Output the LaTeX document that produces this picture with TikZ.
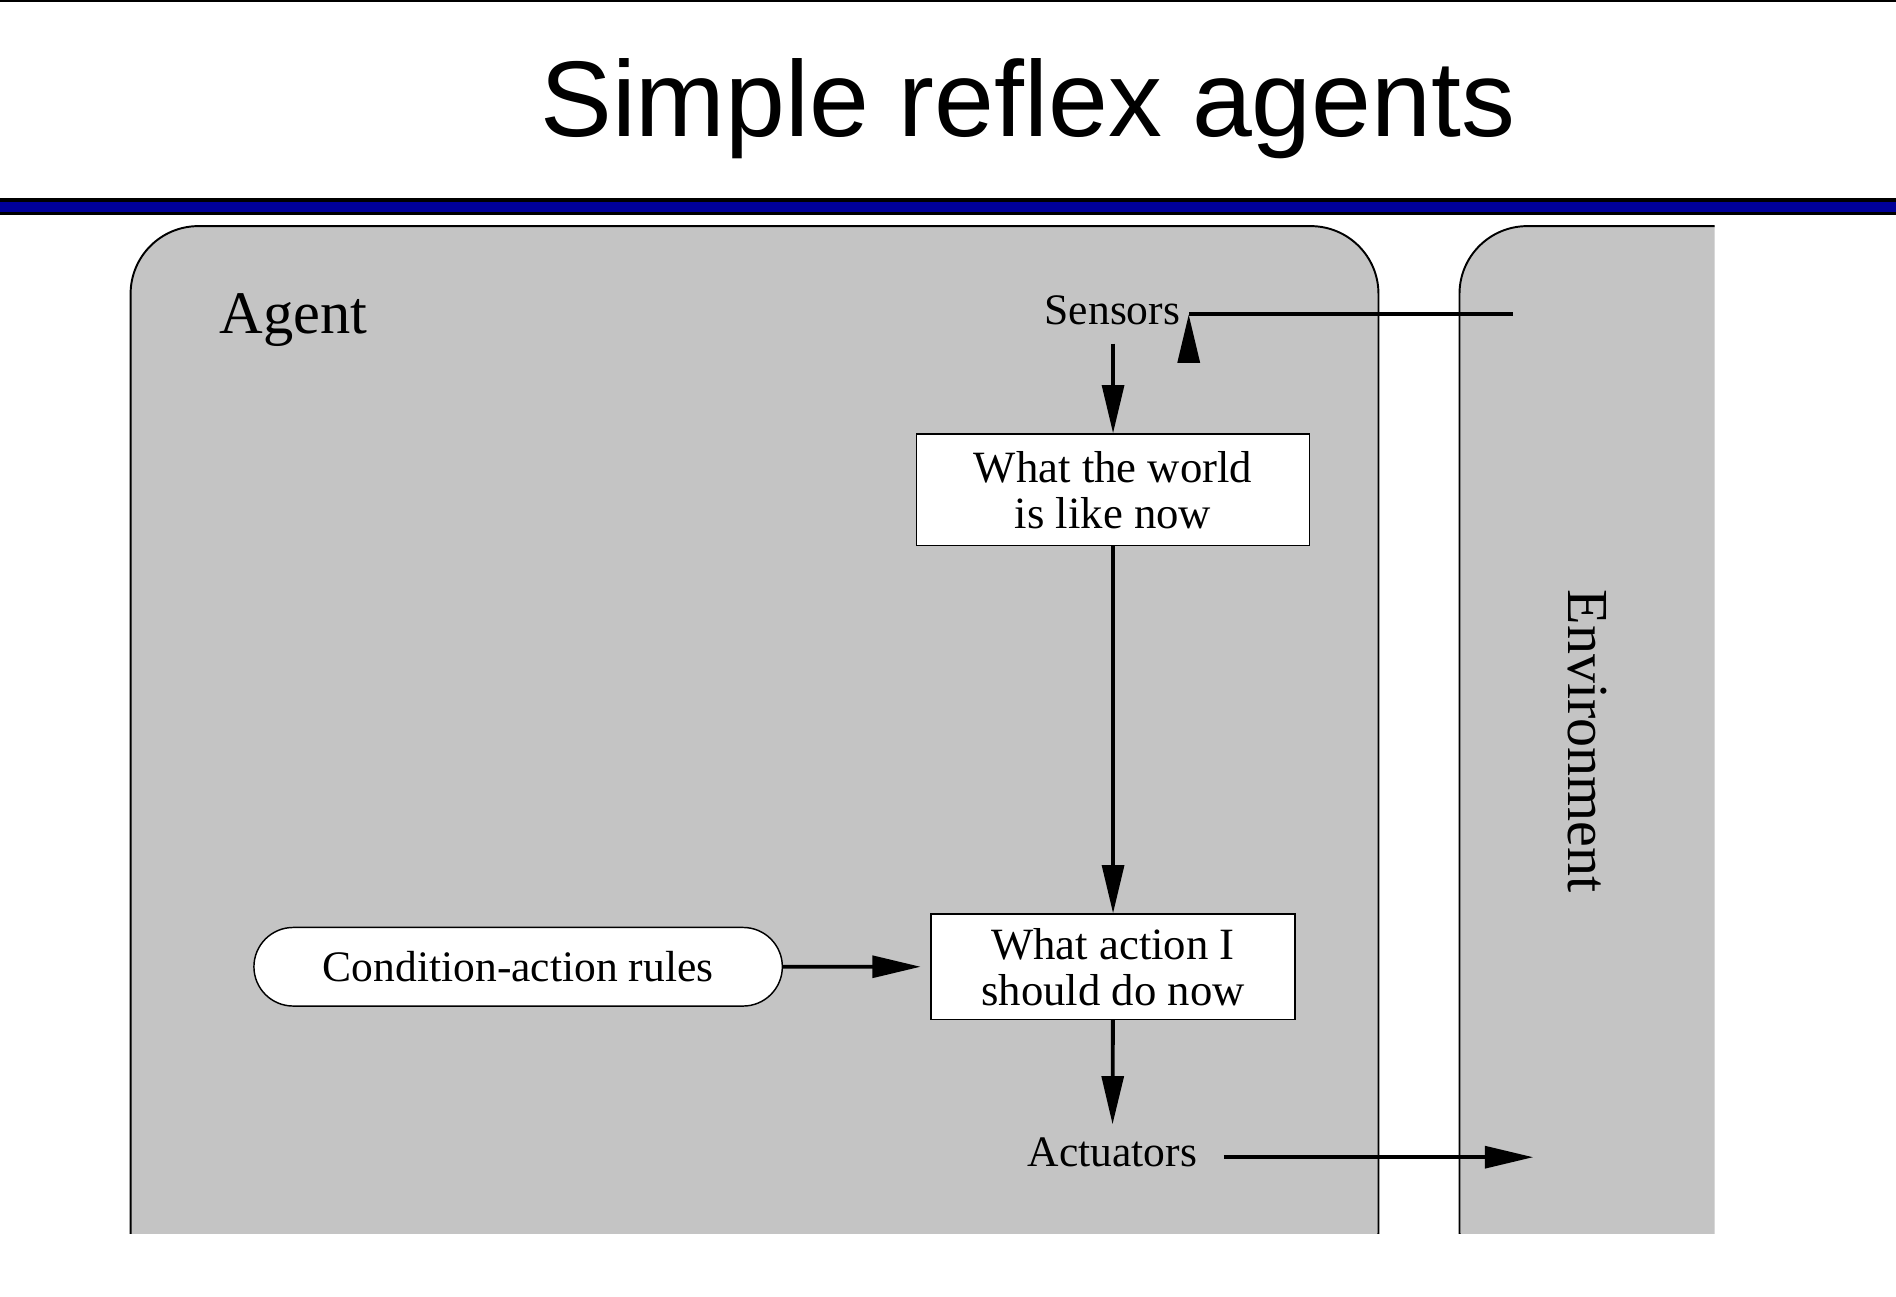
\documentclass[tikz,border=0pt]{standalone}
\usepackage{fontspec}
\setmainfont{Liberation Serif}
\newfontfamily\titlefont{Liberation Sans}
\usetikzlibrary{arrows.meta,shapes.misc}
\begin{document}
\begin{tikzpicture}[x=0.5pt,y=-0.5pt,
  arr/.style={line width=1.6pt,-{Triangle[length=20pt,width=9pt]}},
  lbl/.style={font=\fontsize{18}{19}\selectfont},
  boxn/.style={draw,fill=white,line width=0.6pt,align=center,font=\fontsize{18.5}{19}\selectfont,inner sep=0pt}]
\useasboundingbox (0,0) rectangle (1568,1072);
\fill[white] (0,0) rectangle (1568,1072);
\draw[line width=1pt] (0,1) -- (1568,1);
\node[font=\titlefont\fontsize{44.5}{48}\selectfont] (title) at (850,90) {Simple reflex agents};
\fill[black] (0,164) rectangle (1568,178);
\fill[blue!60!black] (0,167) rectangle (1568,175);
\begin{scope}
\clip (0,180) rectangle (1418,1020);
\draw[fill=black!23,line width=0.8pt,rounded corners=28pt] (108,187) rectangle (1140,1075);
\draw[fill=black!23,line width=0.8pt,rounded corners=28pt] (1207,187) rectangle (1480,1075);
\end{scope}
\node[font=\fontsize{25}{28}\selectfont] (agent) at (243,265) {Agent};
\node[font=\fontsize{24}{25}\selectfont,rotate=-90] (env) at (1313,613) {Environment};
\node[lbl] (sensors) at (920,257) {Sensors};
\node[lbl] (act) at (920,953) {Actuators};
\node[boxn,minimum width=162.5pt,minimum height=46pt] (world) at (920.5,405) {What the world\\is like now};
\node[boxn,minimum width=150.5pt,minimum height=43.5pt] (action) at (920.5,799.5) {What action I\\should do now};
\node[draw,fill=white,line width=0.6pt,rounded rectangle,minimum width=218.5pt,minimum height=32.5pt,inner sep=0pt,font=\fontsize{18}{19}\selectfont] (rules) at (428.5,799.5) {Condition-action rules};
\coordinate (ein) at (1251,260);
\coordinate (eout) at (1268,957);
\draw[arr] (ein) -- (ein -| sensors.east) ++(0,0);
\draw[arr,shorten <=4pt] (sensors.south -| world.north) -- (world.north);
\draw[arr] (world) -- (action);
\draw[arr,shorten >=4pt] (rules) -- (action);
\draw[arr,shorten >=2pt] (action) -- (act);
\draw[arr] (act.east) ++(15,4) -- (eout);
\end{tikzpicture}
\end{document}
